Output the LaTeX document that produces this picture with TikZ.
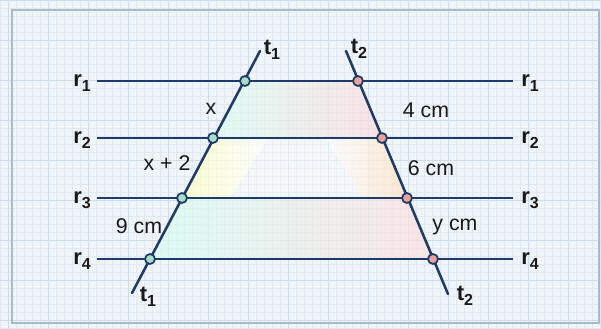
\documentclass[tikz,border=0pt]{standalone}
\usepackage{fontspec}
\setmainfont{Liberation Sans}
\definecolor{navy}{HTML}{1E3A66}
\definecolor{paper}{HTML}{F0F5FA}
\definecolor{gridminor}{HTML}{E0E9F2}
\definecolor{gridmajor}{HTML}{D0DCE8}
\definecolor{frame}{HTML}{A8BBCE}
\definecolor{ptA}{HTML}{A9DCCB}
\definecolor{ptB}{HTML}{E9A29C}
\begin{document}
\begin{tikzpicture}[x=0.75pt,y=-0.75pt,
  minorline/.style={gridminor,line width=0.45pt},
  majorline/.style={gridmajor,line width=0.6pt},
  rline/.style={navy,line width=1.9pt},
  tline/.style={navy,line width=1.9pt,line cap=round},
  ptt1/.style={circle,draw=navy,fill=ptA,line width=1.3pt,inner sep=0pt,minimum size=7.5pt},
  ptt2/.style={circle,draw=navy,fill=ptB,line width=1.3pt,inner sep=0pt,minimum size=7.5pt},
  lname/.style={font=\fontsize{16.5}{18}\selectfont\bfseries,text=black!90,inner sep=0pt},
  seglabel/.style={font=\fontsize{16}{18}\selectfont,text=black!90,inner sep=0pt}]
\useasboundingbox (0,0) rectangle (601,329);
\fill[paper] (0,0) rectangle (601,329);
\foreach \i in {0,...,75} \draw[minorline] (\i*8,0) -- (\i*8,329);
\foreach \j in {0,...,41} \draw[minorline] (0,\j*8) -- (601,\j*8);
\foreach \i in {0,...,15} \draw[majorline] (8+\i*40,0) -- (8+\i*40,329);
\foreach \j in {0,...,8} \draw[majorline] (0,\j*40) -- (601,\j*40);
\draw[frame,line width=1.4pt] (12,10) rectangle (599,323);

% intersection points
\coordinate (A1) at (245,81);
\coordinate (A2) at (213,138);
\coordinate (A3) at (182,198);
\coordinate (A4) at (150,259);
\coordinate (B1) at (358,81);
\coordinate (B2) at (382,138);
\coordinate (B3) at (407,198);
\coordinate (B4) at (433,259);
\coordinate (T1top) at (260,51);
\coordinate (T1bot) at (132,293);
\coordinate (T2top) at (346,51);
\coordinate (T2bot) at (448,294);
\coordinate (R1l) at (97,81);  \coordinate (R1r) at (513,81);
\coordinate (R2l) at (97,138); \coordinate (R2r) at (513,138);
\coordinate (R3l) at (97,198); \coordinate (R3r) at (513,198);
\coordinate (R4l) at (97,259); \coordinate (R4r) at (513,259);

% pastel fills
\fill[white,opacity=0.35] (A1) -- (B1) -- (B4) -- (A4) -- cycle;
\shade[left color=green!30!cyan!18,middle color=blue!9!paper,right color=red!18!white,opacity=0.55]
  (A1) -- (B1) -- (B2) -- (A2) -- cycle;
\shade[left color=yellow!30!white,right color=white,opacity=0.6]
  (A2) -- (268,138) -- (230,198) -- (A3) -- cycle;
\shade[left color=white,right color=orange!28!white,opacity=0.6]
  (326,138) -- (B2) -- (B3) -- (362,198) -- cycle;
\shade[left color=green!30!cyan!20,middle color=violet!10!white,right color=red!16!white,opacity=0.55]
  (A3) -- (B3) -- (B4) -- (A4) -- cycle;

% parallel lines
\draw[rline] (R1l) -- (R1r);
\draw[rline] (R2l) -- (R2r);
\draw[rline] (R3l) -- (R3r);
\draw[rline] (R4l) -- (R4r);
% transversals
\draw[tline] (T1top) -- (T1bot);
\draw[tline] (T2top) -- (T2bot);

% points
\foreach \p in {A1,A2,A3,A4} \node[ptt1] (p\p) at (\p) {};
\foreach \p in {B1,B2,B3,B4} \node[ptt2] (p\p) at (\p) {};

% line names
\newcommand{\nm}[2]{#1\raisebox{-0.45ex}{\fontsize{12}{12}\selectfont #2}}
\node[lname] (lr1) at (82,83) {\nm{r}{1}};
\node[lname] (lr2) at (82,140) {\nm{r}{2}};
\node[lname] (lr3) at (82,200) {\nm{r}{3}};
\node[lname] (lr4) at (82,261) {\nm{r}{4}};
\node[lname] (rr1) at (530,83) {\nm{r}{1}};
\node[lname] (rr2) at (530,140) {\nm{r}{2}};
\node[lname] (rr3) at (530,200) {\nm{r}{3}};
\node[lname] (rr4) at (530,261) {\nm{r}{4}};
\node[lname] (t1a) at (272,50) {\nm{t}{1}};
\node[lname] (t2a) at (359,49) {\nm{t}{2}};
\node[lname] (t1b) at (148,297) {\nm{t}{1}};
\node[lname] (t2b) at (465,296) {\nm{t}{2}};

% segment labels
\node[seglabel] (sx) at (211,109) {x};
\node[seglabel] (s4) at (426,110) {4 cm};
\node[seglabel] (sx2) at (167,163) {x + 2};
\node[seglabel] (s6) at (431,168) {6 cm};
\node[seglabel] (s9) at (139,226) {9 cm};
\node[seglabel] (sy) at (455,227) {y cm};
\end{tikzpicture}
\end{document}
